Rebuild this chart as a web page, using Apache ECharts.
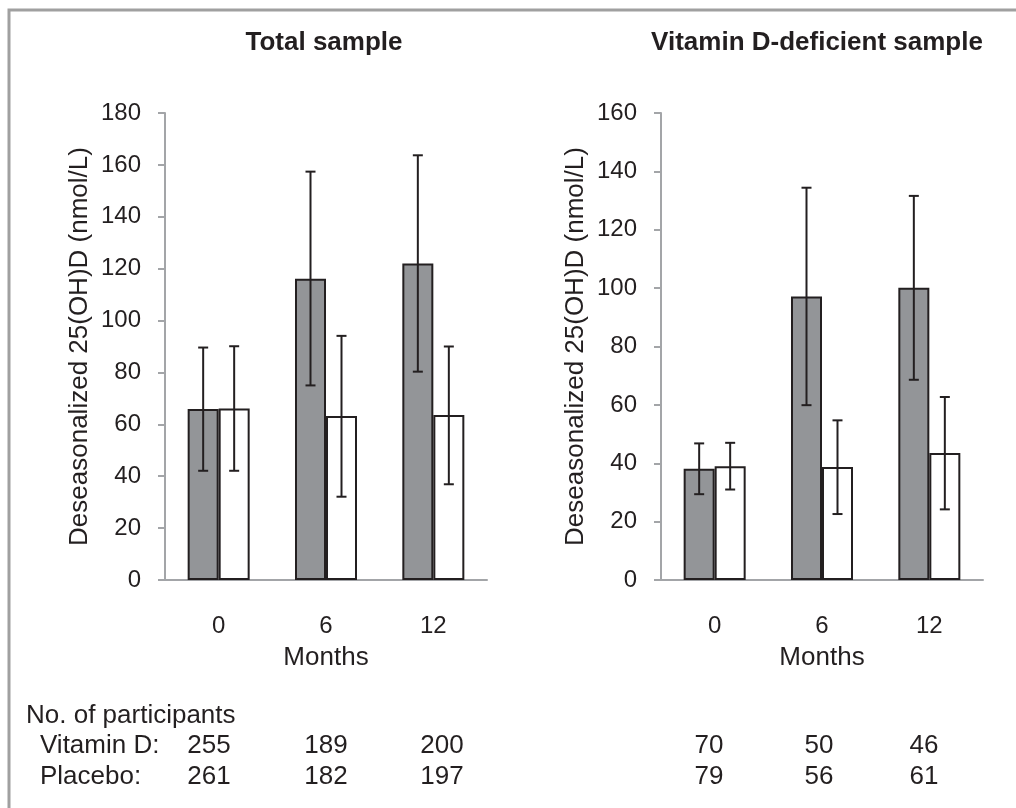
<!DOCTYPE html>
<html>
<head>
<meta charset="utf-8">
<script src="https://cdn.jsdelivr.net/npm/echarts@6/dist/echarts.min.js"></script>
<style>
html,body{margin:0;padding:0;background:#fff;}
#main{width:1016px;height:808px;}
</style>
</head>
<body>
<div id="main"></div>
<script>
// ---- data ----
var months = ['0', '6', '12'];
var panelTitles = ['Total sample', 'Vitamin D-deficient sample'];
var yTitle = 'Deseasonalized 25(OH)D (nmol/L)';
var xTitle = 'Months';

var totalVitD      = [65.9, 116.1, 122.0];
var totalVitDLow   = [42.1, 75.0, 80.3];
var totalVitDHigh  = [89.6, 157.4, 163.7];
var totalPlac      = [66.1, 63.2, 63.6];
var totalPlacLow   = [42.1, 32.1, 36.9];
var totalPlacHigh  = [90.1, 94.1, 90.0];

var defVitD        = [38.1, 97.1, 100.1];
var defVitDLow     = [29.4, 59.9, 68.6];
var defVitDHigh    = [46.8, 134.4, 131.6];
var defPlac        = [39.0, 38.7, 43.5];
var defPlacLow     = [31.0, 22.6, 24.2];
var defPlacHigh    = [47.0, 54.7, 62.7];

var yMax = [180, 160];
var yInterval = 20;

var tableHeader = 'No. of participants';
var rowLabels = ['Vitamin D:', 'Placebo:'];
var nTotalVitD = [255, 189, 200];
var nTotalPlac = [261, 182, 197];
var nDefVitD   = [70, 50, 46];
var nDefPlac   = [79, 56, 61];

// ---- styles ----
var FONT = '"Liberation Sans", Arial, sans-serif';
var TXT = '#231f20';
var AXIS = '#a3a5a8';
var BARGRAY = '#939598';
var BAR_W = 31;

function errData(lo, hi) {
  return lo.map(function (v, i) { return [i, v, hi[i]]; });
}
function errRender(offset) {
  return function (params, api) {
    var i = api.value(0);
    var pHi = api.coord([i, api.value(2)]);
    var pLo = api.coord([i, api.value(1)]);
    var cx = pHi[0] + offset;
    var st = { stroke: TXT, lineWidth: 2 };
    return {
      type: 'group',
      children: [
        { type: 'line', shape: { x1: cx, y1: pHi[1], x2: cx, y2: pLo[1] }, style: st },
        { type: 'line', shape: { x1: cx - 5, y1: pHi[1], x2: cx + 5, y2: pHi[1] }, style: st },
        { type: 'line', shape: { x1: cx - 5, y1: pLo[1], x2: cx + 5, y2: pLo[1] }, style: st }
      ]
    };
  };
}

var grids = [
  { left: 165, top: 113, width: 322, height: 467 },
  { left: 661, top: 113, width: 322, height: 467 }
];

function xAxisFor(gi) {
  return {
    type: 'category', gridIndex: gi, data: months,
    axisLine: { show: true, lineStyle: { color: AXIS, width: 2 } },
    axisTick: { show: false },
    axisLabel: { fontSize: 24, color: TXT, fontFamily: FONT, margin: 34 },
    name: xTitle, nameLocation: 'middle', nameGap: 65,
    nameTextStyle: { fontSize: 26, color: TXT, fontFamily: FONT }
  };
}
function yAxisFor(gi) {
  return {
    type: 'value', gridIndex: gi, min: 0, max: yMax[gi], interval: yInterval,
    axisLine: { show: true, lineStyle: { color: AXIS, width: 2 } },
    axisTick: { show: true, length: 7, lineStyle: { color: AXIS, width: 2 } },
    splitLine: { show: false },
    axisLabel: { fontSize: 24, color: TXT, fontFamily: FONT, margin: 24 },
    name: yTitle, nameLocation: 'middle', nameRotate: 90, nameGap: 72,
    nameTextStyle: { fontSize: 26, color: TXT, fontFamily: FONT }
  };
}

function barSeries(gi, name, data, fill) {
  return {
    type: 'bar', name: name, xAxisIndex: gi, yAxisIndex: gi, data: data,
    barWidth: BAR_W, barGap: '0%',
    itemStyle: { color: fill, borderColor: TXT, borderWidth: 2 },
    emphasis: { disabled: true }, animation: false
  };
}
function errSeries(gi, lo, hi, offset) {
  return {
    type: 'custom', xAxisIndex: gi, yAxisIndex: gi, z: 5,
    data: errData(lo, hi), renderItem: errRender(offset),
    encode: { x: 0, y: [1, 2] }, animation: false
  };
}

// table texts
var graphics = [
  { type: 'rect', shape: { x: 9, y: 10, width: 1100, height: 900 },
    style: { fill: 'none', stroke: '#a0a0a0', lineWidth: 3 }, silent: true }
];
function txt(x, y, s, align) {
  graphics.push({
    type: 'text', x: x, y: y,
    style: { text: String(s), fontSize: 26, fontFamily: FONT, fill: TXT,
             align: align || 'center', verticalAlign: 'middle',
             textAlign: align || 'center', textVerticalAlign: 'middle' }
  });
}
var rowY = [746, 777];
txt(26, 716, tableHeader, 'left');
txt(40, rowY[0], rowLabels[0], 'left');
txt(40, rowY[1], rowLabels[1], 'left');
var leftX = [209, 326, 442];
var rightX = [709, 819, 924];
for (var i = 0; i < 3; i++) {
  txt(leftX[i], rowY[0], nTotalVitD[i]);
  txt(leftX[i], rowY[1], nTotalPlac[i]);
  txt(rightX[i], rowY[0], nDefVitD[i]);
  txt(rightX[i], rowY[1], nDefPlac[i]);
}

var option = {
  backgroundColor: '#fff',
  animation: false,
  title: [
    { text: panelTitles[0], left: 319, top: 25, textAlign: 'center',
      textStyle: { fontSize: 26, fontWeight: 'bold', color: TXT, fontFamily: FONT } },
    { text: panelTitles[1], left: 812, top: 25, textAlign: 'center',
      textStyle: { fontSize: 26, fontWeight: 'bold', color: TXT, fontFamily: FONT } }
  ],
  grid: grids,
  xAxis: [xAxisFor(0), xAxisFor(1)],
  yAxis: [yAxisFor(0), yAxisFor(1)],
  series: [
    barSeries(0, 'Vitamin D', totalVitD, BARGRAY),
    barSeries(0, 'Placebo', totalPlac, '#ffffff'),
    errSeries(0, totalVitDLow, totalVitDHigh, -BAR_W / 2),
    errSeries(0, totalPlacLow, totalPlacHigh, BAR_W / 2),
    barSeries(1, 'Vitamin D', defVitD, BARGRAY),
    barSeries(1, 'Placebo', defPlac, '#ffffff'),
    errSeries(1, defVitDLow, defVitDHigh, -BAR_W / 2),
    errSeries(1, defPlacLow, defPlacHigh, BAR_W / 2)
  ],
  graphic: graphics
};

var chart = echarts.init(document.getElementById('main'));
chart.setOption(option);
</script>
</body>
</html>
